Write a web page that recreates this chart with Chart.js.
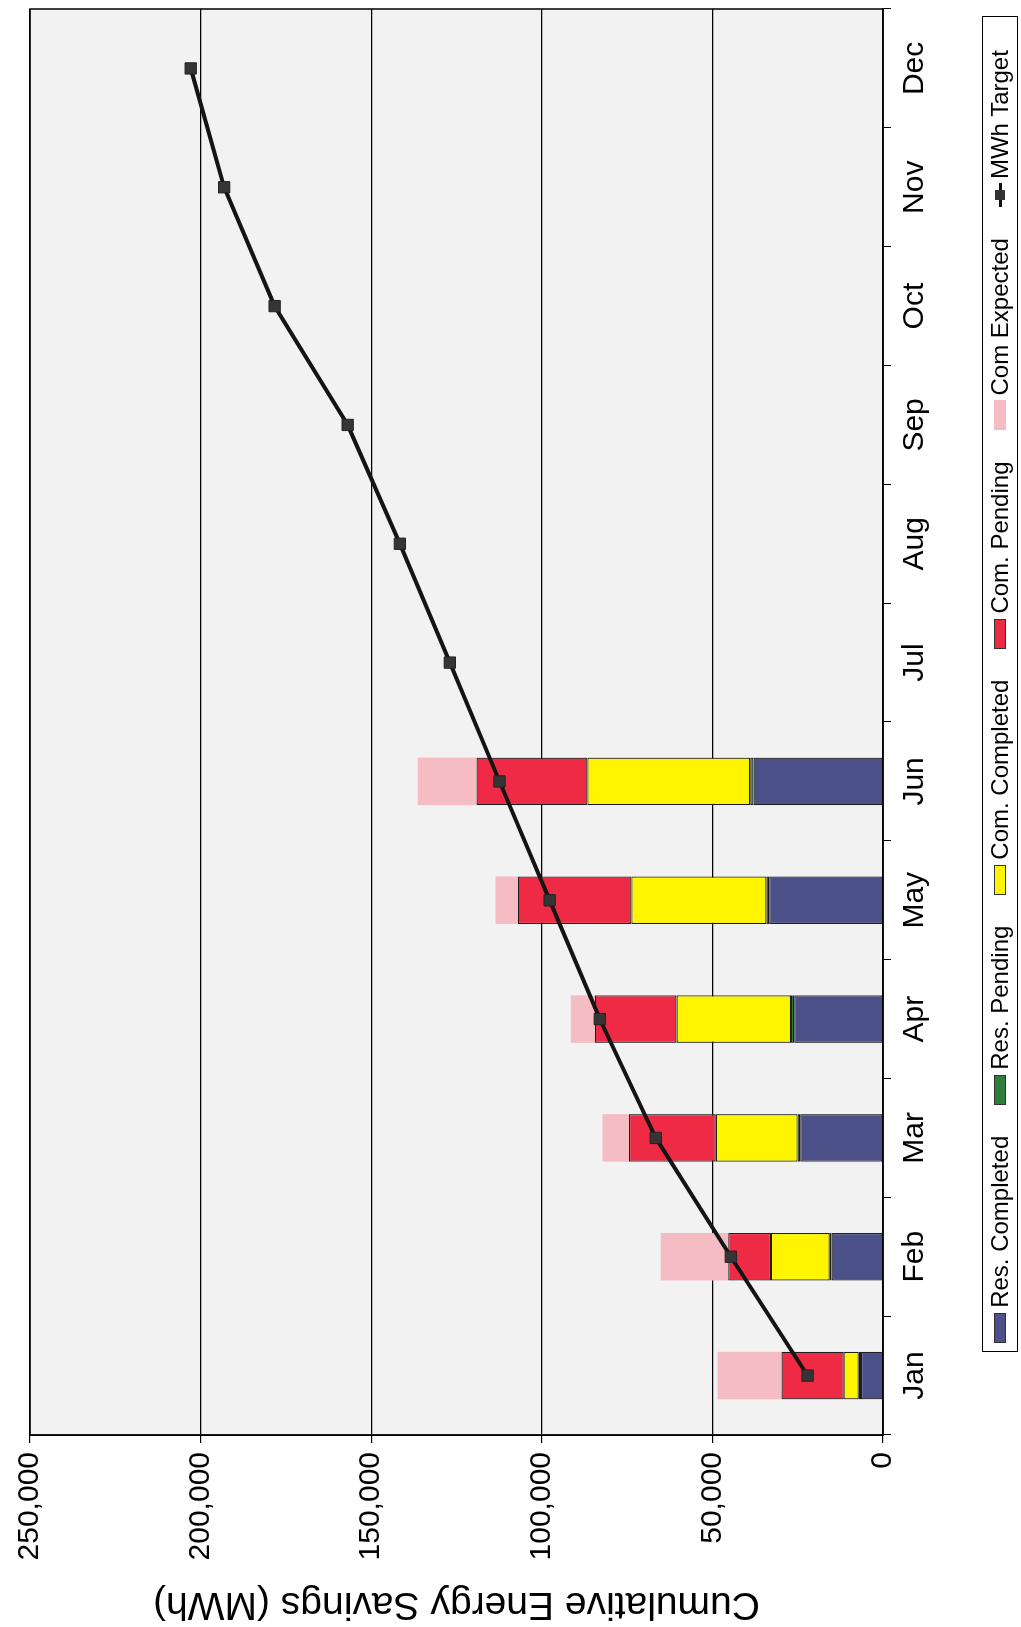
<!DOCTYPE html>
<html>
<head>
<meta charset="utf-8">
<script src="https://cdn.jsdelivr.net/npm/chart.js@4/dist/chart.umd.min.js"></script>
<style>
    html, body { margin: 0; padding: 0; background: #fff; }
    body { width: 1021px; height: 1627px; overflow: hidden; position: relative; font-family: 'Liberation Sans', Arial, sans-serif; }
    /* the page was scanned sideways: draw the chart upright, then turn it */
    #frame { position: absolute; left: 0; top: 0; width: 1627px; height: 1021px; transform-origin: 0 0; transform: translateY(1627px) rotate(-90deg); }
    #chart { position: absolute; left: 0; top: 0; }
    #legend { position: absolute; left: 275px; top: 982px; width: 1334px; height: 34px; border: 1px solid #000; background: #fff;
        box-sizing: content-box; padding-right: 0; display: flex; align-items: center; justify-content: center; gap: 31px; font-size: 24px; color: #000; }
    #legend .item { display: flex; align-items: center; white-space: nowrap; }
    #legend .swatch { display: inline-block; width: 30px; height: 12px; margin-right: 5px; box-sizing: border-box; }
    #legend .mark { position: relative; display: inline-block; width: 24px; height: 12px; margin-right: 4px; }
    #legend .mark::before { content: ''; position: absolute; left: 0; right: 0; top: 5px; height: 3px; background: #111; }
    #legend .mark::after { content: ''; position: absolute; left: 7px; top: 1px; width: 10px; height: 10px; background: #333; }
</style>
</head>
<body>
<div id="frame">
    <canvas id="chart" width="1627" height="1021"></canvas>
    <div id="legend"></div>
</div>
<script>
const months = ['Jan', 'Feb', 'Mar', 'Apr', 'May', 'Jun', 'Jul', 'Aug', 'Sep', 'Oct', 'Nov', 'Dec'];
const yTicks = [0, 50000, 100000, 150000, 200000, 250000];

// stacked pieces, MWh (only Jan-Jun reported)
const resCompleted = [6450, 15060, 24260, 26020, 33360, 37940];
const resPending = [680, 580, 770, 980, 770, 990];
const comCompleted = [4400, 17220, 23970, 33530, 39610, 47710];
const comPending = [18190, 12530, 25430, 23970, 33260, 32480];
const comExpected = [18780, 19740, 7810, 7040, 6540, 17220];
const mwhTarget = [22100, 44600, 66600, 83000, 97700, 112400, 126950, 141600, 156900, 178300, 193100, 202900];

const font = "'Liberation Sans', Arial, sans-serif";

const barSet = (label, data, color, border) => ({
    type: 'bar',
    label: label,
    data: data,
    backgroundColor: color,
    borderColor: border ? '#1e1e1e' : color,
    borderWidth: border ? 1.2 : 0,
    borderSkipped: false,
    categoryPercentage: 0.8,
    barPercentage: 0.5,
    order: 1
});

const datasets = [
    barSet('Res. Completed', resCompleted, '#4c5088', true),
    barSet('Res. Pending', resPending, '#2f7d3b', true),
    barSet('Com. Completed', comCompleted, '#fff500', true),
    barSet('Com. Pending', comPending, '#ee2a44', true),
    barSet('Com Expected', comExpected, '#f6bcc3', false),
    {
        type: 'line',
        label: 'MWh Target',
        data: mwhTarget,
        borderColor: '#141414',
        borderWidth: 4,
        tension: 0,
        pointStyle: 'rect',
        pointRadius: 8,
        pointBackgroundColor: '#353535',
        pointBorderColor: '#222',
        pointBorderWidth: 1,
        order: 0
    }
];

const plotFrame = {
    id: 'plotFrame',
    beforeDraw(chart) {
        const { ctx, chartArea: a } = chart;
        ctx.save();
        ctx.fillStyle = '#f2f2f2';
        ctx.fillRect(a.left, a.top, a.right - a.left, a.bottom - a.top);
        ctx.restore();
    },
    afterDraw(chart) {
        const { ctx, chartArea: a } = chart;
        ctx.save();
        ctx.strokeStyle = '#000';
        ctx.lineWidth = 1.5;
        ctx.strokeRect(a.left, a.top, a.right - a.left, a.bottom - a.top);
        ctx.restore();
    }
};

const chart = new Chart(document.getElementById('chart'), {
    type: 'bar',
    data: { labels: months, datasets: datasets },
    plugins: [plotFrame],
    options: {
        responsive: false,
        animation: false,
        layout: { padding: { top: 30, right: 3, left: 0, bottom: 0 } },
        plugins: { legend: { display: false }, tooltip: { enabled: false } },
        scales: {
            x: {
                stacked: true,
                grid: { drawOnChartArea: false, tickLength: 8, color: '#000', offset: true },
                border: { color: '#000', width: 1.5 },
                ticks: { color: '#000', font: { family: font, size: 30 }, padding: 6, maxRotation: 0 },
                afterFit: (scale) => { scale.height = 1021 - 883; }
            },
            y: {
                stacked: true,
                min: yTicks[0],
                max: yTicks[yTicks.length - 1],
                afterBuildTicks: (scale) => { scale.ticks = yTicks.map(v => ({ value: v })); },
                ticks: { color: '#000', font: { family: font, size: 30 }, padding: 9, callback: (v) => v.toLocaleString('en-US') },
                grid: { color: '#000', lineWidth: 1.2, tickLength: 8 },
                border: { color: '#000', width: 1.5 },
                title: { display: true, text: 'Cumulative Energy Savings (MWh)', color: '#000', font: { family: font, size: 39 }, padding: 0 },
                afterFit: (scale) => { scale.width = 192; }
            }
        }
    }
});

// legend box, built from the datasets
const legend = document.getElementById('legend');
legend.style.width = '1309px';
legend.style.paddingRight = '25px';
chart.data.datasets.forEach(ds => {
    const item = document.createElement('span');
    item.className = 'item';
    const sw = document.createElement('span');
    if (ds.type === 'line') {
        sw.className = 'mark';
    } else {
        sw.className = 'swatch';
        sw.style.background = ds.backgroundColor;
        if (ds.borderWidth) sw.style.border = '1px solid #333';
    }
    item.appendChild(sw);
    item.appendChild(document.createTextNode(ds.label));
    legend.appendChild(item);
});
</script>
</body>
</html>
